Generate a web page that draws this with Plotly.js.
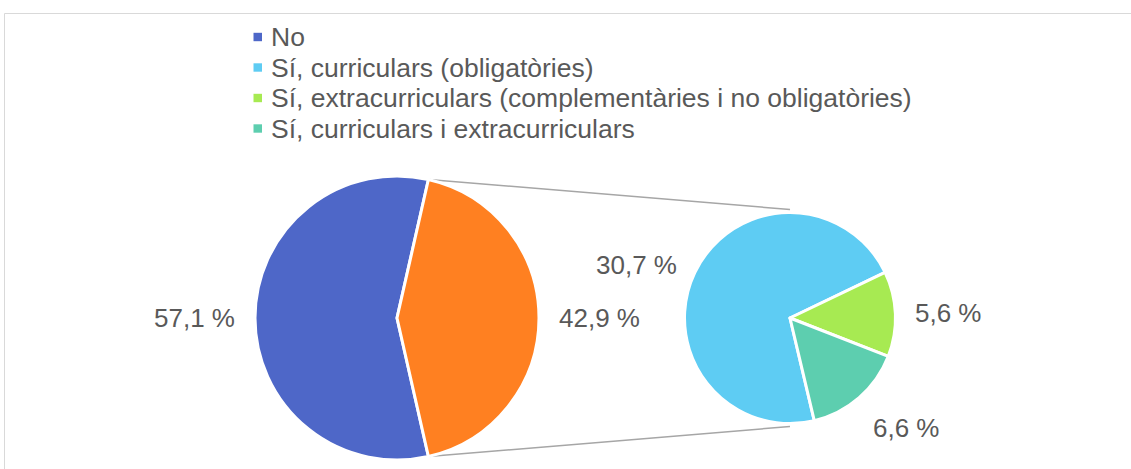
<!DOCTYPE html>
<html>
<head>
<meta charset="utf-8">
<script src="https://cdn.plot.ly/plotly-3.0.1.min.js"></script>
<style>html,body{margin:0;padding:0;background:#fff;}#chart{width:1131px;height:469px;}</style>
</head>
<body>
<div id="chart"></div>
<script>
// ---- data ----
var mainLabels = ['No', 'Sí'];
var mainValues = [57.1, 42.9];
var subLabels = ['Sí, curriculars (obligatòries)', 'Sí, extracurriculars (complementàries i no obligatòries)', 'Sí, curriculars i extracurriculars'];
var subValues = [30.7, 5.6, 6.6];
var legendLabels = ['No', 'Sí, curriculars (obligatòries)', 'Sí, extracurriculars (complementàries i no obligatòries)', 'Sí, curriculars i extracurriculars'];

// ---- style ----
var mainColors = ['#4E67C8', '#FF8021'];
var subColors = ['#5ECCF3', '#A7EA52', '#5DCEAF'];
var legendColors = ['#4E67C8', '#5ECCF3', '#A7EA52', '#5DCEAF'];
var W = 1131, H = 469;
var textColor = '#595959';
var fontFam = 'Liberation Sans, Arial, sans-serif';
var fontSize = 26;
var legendFontSize = 26.5;

var big = {cx: 397, cy: 318, r: 142};
var small = {cx: 790, cy: 318, r: 105.5};

function px(x) { return x / W; }
function py(y) { return 1 - y / H; }
function fmt(v) { return v.toFixed(1).replace('.', ',') + ' %'; }
function sum(a) { return a.reduce(function (s, v) { return s + v; }, 0); }

var mainTotal = sum(mainValues);
var otherShare = mainValues[1] / mainTotal;
var mainRotation = 90 + otherShare * 180; // "other" slice centred at 3 o'clock
var subRotation = 166.7;

var traces = [
  {
    type: 'pie', labels: mainLabels, values: mainValues, sort: false, direction: 'clockwise',
    rotation: mainRotation, textinfo: 'none', hoverinfo: 'none', showlegend: false,
    marker: {colors: mainColors, line: {color: '#ffffff', width: 3}},
    domain: {x: [px(big.cx - big.r), px(big.cx + big.r)], y: [py(big.cy + big.r), py(big.cy - big.r)]}
  },
  {
    type: 'pie', labels: subLabels, values: subValues, sort: false, direction: 'clockwise',
    rotation: subRotation, textinfo: 'none', hoverinfo: 'none', showlegend: false,
    marker: {colors: subColors, line: {color: '#ffffff', width: 3}},
    domain: {x: [px(small.cx - small.r), px(small.cx + small.r)], y: [py(small.cy + small.r), py(small.cy - small.r)]}
  }
];

var shapes = [], annotations = [];

// chart border
shapes.push({type: 'line', xref: 'paper', yref: 'paper', x0: px(4.5), x1: 1.01, y0: py(13.5), y1: py(13.5), line: {color: '#d9d9d9', width: 1}});
shapes.push({type: 'line', xref: 'paper', yref: 'paper', x0: px(4.5), x1: px(4.5), y0: py(13.5), y1: -0.01, line: {color: '#d9d9d9', width: 1}});

// connector lines
var a1 = (90 - otherShare * 180) * Math.PI / 180;
var a2 = (90 + otherShare * 180) * Math.PI / 180;
var p1 = [big.cx + big.r * Math.sin(a1), big.cy - big.r * Math.cos(a1)];
var p2 = [big.cx + big.r * Math.sin(a2), big.cy - big.r * Math.cos(a2)];
shapes.push({type: 'line', xref: 'paper', yref: 'paper', layer: 'below', x0: px(p1[0]), y0: py(p1[1]), x1: px(small.cx), y1: py(small.cy - small.r - 3), line: {color: '#a6a6a6', width: 1.5}});
shapes.push({type: 'line', xref: 'paper', yref: 'paper', layer: 'below', x0: px(p2[0]), y0: py(p2[1]), x1: px(small.cx), y1: py(small.cy + small.r + 3), line: {color: '#a6a6a6', width: 1.5}});

// data labels
function addLabels(pie, values, rotation) {
  var total = sum(values), start = rotation, gap = 18;
  values.forEach(function (v) {
    var span = v / total * 360;
    var mid = (start + span / 2) * Math.PI / 180;
    var dx = Math.sin(mid), dy = -Math.cos(mid);
    var x = pie.cx + (pie.r + gap) * dx, y = pie.cy + (pie.r + gap) * dy;
    annotations.push({
      xref: 'paper', yref: 'paper', x: px(x), y: py(y), text: fmt(v), showarrow: false,
      xanchor: dx < -0.3 ? 'right' : (dx > 0.3 ? 'left' : 'center'),
      yanchor: dy < -0.5 ? 'bottom' : (dy > 0.5 ? 'top' : 'middle'),
      font: {family: fontFam, size: fontSize, color: textColor}
    });
    start += span;
  });
}
addLabels(big, mainValues, mainRotation);
addLabels(small, subValues, subRotation);

// legend
var rowY = [37, 67.5, 98, 128.5];
legendLabels.forEach(function (lab, i) {
  var y = rowY[i];
  shapes.push({type: 'rect', xref: 'paper', yref: 'paper', x0: px(253.5), x1: px(262), y0: py(y + 4.2), y1: py(y - 4.2), fillcolor: legendColors[i], line: {width: 0}});
  annotations.push({xref: 'paper', yref: 'paper', x: px(269), y: py(y), xanchor: 'left', yanchor: 'middle', text: lab, showarrow: false, font: {family: fontFam, size: legendFontSize, color: textColor}});
});

var layout = {
  width: W, height: H, margin: {l: 0, r: 0, t: 0, b: 0},
  paper_bgcolor: '#ffffff', plot_bgcolor: '#ffffff',
  showlegend: false, shapes: shapes, annotations: annotations,
  font: {family: fontFam, color: textColor}
};
Plotly.newPlot('chart', traces, layout, {displayModeBar: false, staticPlot: true});
</script>
</body>
</html>
